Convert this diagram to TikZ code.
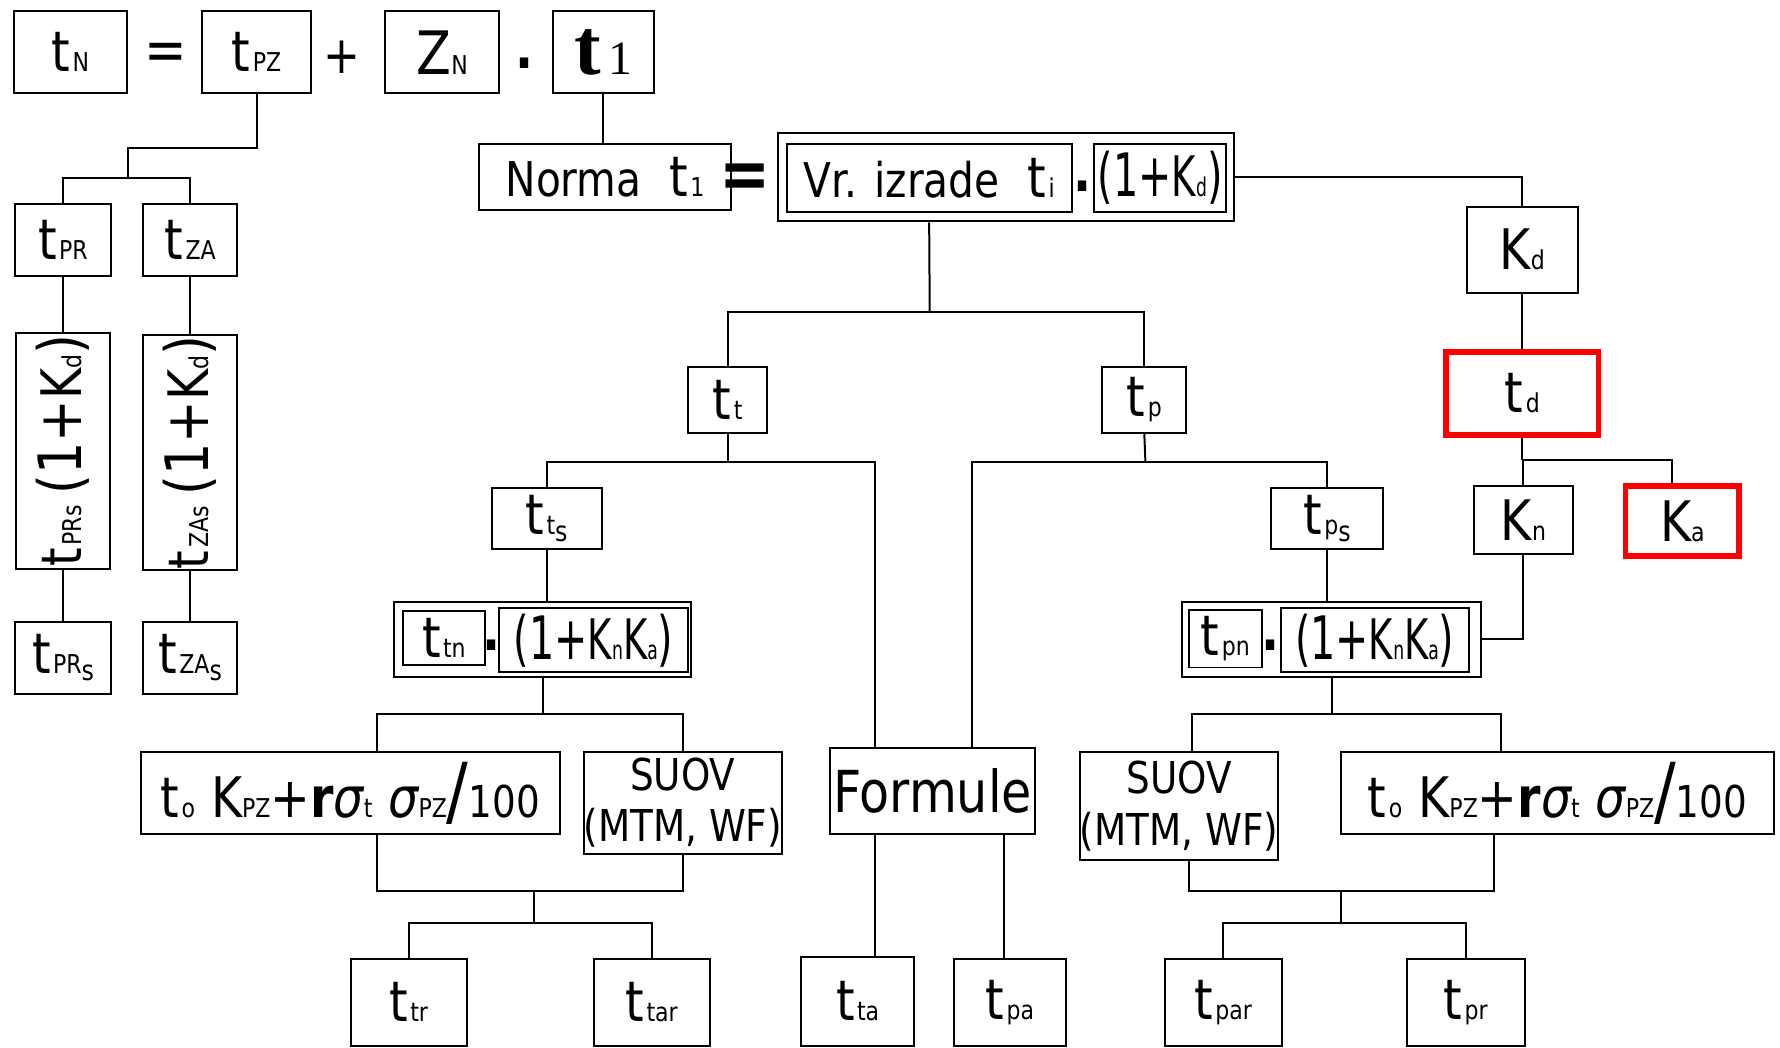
\documentclass[tikz,border=0pt]{standalone}
\usepackage{fontspec}
\setmainfont{DejaVu Sans}[FakeStretch=0.85]
\newfontfamily\serifb{Liberation Serif}

\newcommand{\bigsz}{\fontsize{14}{14}\selectfont}
\newcommand{\subsz}{\fontsize{6.5}{6.5}\selectfont}
\newcommand{\tsym}[1]{{\bigsz t}\kern0.6pt{\subsz #1}}
\newcommand{\ksym}[1]{{\bigsz K}{\subsz #1}}
\newcommand{\lowsub}[1]{\raisebox{-1.8pt}{\fontsize{7}{7}\selectfont #1}}
\newcommand{\paren}[1]{{\fontsize{15}{15}\selectfont #1}}
\newcommand{\narrow}[1]{\scalebox{0.78}[1]{#1}}

\begin{document}
\begin{tikzpicture}[x=0.1mm, y=-0.1mm, line width=0.5pt,
  cell/.style 2 args={draw, inner sep=0pt, minimum width=#1*0.1mm, minimum height=#2*0.1mm},
  hot/.style={draw=red, line width=1.4pt}]
  \useasboundingbox (0,0) rectangle (1568,923);

  % Top equation
  \node[cell={100}{72}] (tN) at (62,46) {\tsym{N}};
  \node (eqA) at (146,50) {\fontsize{15}{15}\selectfont =};
  \node[cell={96}{72}] (tPZ) at (226,46) {\tsym{PZ}};
  \node (plus) at (301,50) {\fontsize{13}{13}\selectfont +};
  \node[cell={101}{72}] (ZN) at (389.5,46) {{\fontsize{15}{15}\selectfont Z}{\subsz N}};
  \node (dotA) at (462,56) {\bigsz\bfseries .};
  \node[cell={89}{72}] (t1) at (531.5,46) {{\serifb\bfseries\fontsize{20}{20}\selectfont t}\,{\serifb\fontsize{12}{12}\selectfont 1}};

  % Left branch
  \node[cell={85}{63}] (tPR) at (55.5,211.5) {\tsym{PR}};
  \node[cell={83}{63}] (tZA) at (167.5,211.5) {\tsym{ZA}};
  \node[cell={208}{83}, rotate=90] (vPR) at (55.5,397) {\tsym{PRs}\ \paren{(1+}\ksym{d}\paren{)}};
  \node[cell={207}{83}, rotate=90] (vZA) at (167.5,398.5) {\tsym{ZAs}\ \paren{(1+}\ksym{d}\paren{)}};
  \node[cell={85}{63}] (tPRs) at (55.5,579.5) {\tsym{PR\lowsub{s}}};
  \node[cell={83}{63}] (tZAs) at (167.5,579.5) {\tsym{ZA\lowsub{s}}};

  \coordinate (jPZ) at (113,130);
  \coordinate (jPZb) at (113,157);
  \draw (tPZ.south) |- (jPZ) -- (jPZb);
  \draw (tPR.north) |- (jPZb) -| (tZA.north);
  \draw (tPR) -- (vPR);
  \draw (vPR) -- (tPRs);
  \draw (tZA) -- (vZA);
  \draw (vZA) -- (tZAs);

  % Norma
  \node[cell={222}{58}] (Norma) at (533,156) {{\fontsize{12}{12}\selectfont Norma}\hspace{7pt}\tsym{1}};
  \node (eqB) at (656,160) {\fontsize{18}{18}\selectfont\bfseries =};
  \node[cell={402}{78}] (ti) at (886,156) {};
  \node[cell={251}{60}] (vr) at (818.5,157) {{\fontsize{12}{12}\selectfont Vr. izrade}\hspace{7pt}\tsym{i}};
  \node (dotB) at (954,164) {\bigsz\bfseries .};
  \node[cell={116}{60}] (kd) at (1022,157) {\narrow{\paren{(1+}\ksym{d}\paren{)}}};
  \draw (t1.south) -- (t1.south |- Norma.north);

  % K_d branch
  \node[cell={98}{76}] (Kd) at (1341,220) {\ksym{d}};
  \node[cell={134}{73}, hot] (td) at (1341,346.5) {\tsym{d}};
  \node[cell={88}{60}] (Kn) at (1342,458) {\ksym{n}};
  \node[cell={100}{62}, hot] (Ka) at (1482,459) {\ksym{a}};
  \draw (ti.east) -| (Kd.north);
  \draw (Kd) -- (td);
  \coordinate (jtd) at (1341,405);
  \coordinate (jKa) at (1473,405);
  \draw (td.south) -- (jtd);
  \draw (Kn.north) |- (jtd) -- (jKa) -- (jKa |- Ka.north);

  % t_t and t_p
  \node[cell={70}{58}] (tt) at (641,352) {\tsym{t}};
  \node[cell={74}{58}] (tp) at (1008,352) {\tsym{p}};
  \coordinate (jti) at (819,275);
  \draw (vr.south |- ti.south) -- (jti);
  \draw (tt.north) |- (jti) -| (tp.north);

  \node[cell={97}{54}] (tts) at (481.5,457) {\tsym{t\lowsub{s}}};
  \node[cell={98}{54}] (tps) at (1169,457) {\tsym{p\lowsub{s}}};
  \node[cell={181}{76}] (Formule) at (821.5,697) {{\fontsize{14.5}{14.5}\selectfont Formule}};
  \coordinate (xfa) at (771,0);
  \coordinate (xfb) at (856,0);
  \coordinate (xfc) at (884,0);
  \coordinate (jtt) at (641,407);
  \coordinate (jtp) at (1009,407);
  \draw (tt.south) -- (jtt);
  \draw (tts.north) |- (jtt) -| (xfa |- Formule.north);
  \draw (tp.south) -- (jtp);
  \draw (xfb |- Formule.north) |- (jtp) -| (tps.north);

  % t_tn . (1+KnKa)
  \node[cell={262}{66}] (tn) at (478,563) {};
  \node[cell={72}{48}] (ttn) at (391,562) {\tsym{tn}};
  \node (dotC) at (433,568) {\bigsz\bfseries .};
  \node[cell={166}{56}] (kk1) at (523,564) {\narrow{\paren{(1+}\ksym{n}\ksym{a}\paren{)}}};
  \draw (tts.south) -- (tts.south |- tn.north);

  % t_pn . (1+KnKa)
  \node[cell={264}{66}] (tpn) at (1173,563) {};
  \node[cell={65}{51}] (tpnI) at (1079.5,562.5) {\tsym{pn}};
  \node (dotD) at (1119,568) {\bigsz\bfseries .};
  \node[cell={166}{56}] (kk2) at (1211,564) {\narrow{\paren{(1+}\ksym{n}\ksym{a}\paren{)}}};
  \draw (tps.south) -- (tps.south |- tpn.north);
  \draw (Kn.south) |- (tpn.east);

  % Left lower level
  \node[cell={369}{73}] (f1) at (308.5,698.5) {\tsym{o}\hspace{4pt}\ksym{PZ}{\bigsz+}{\bigsz\bfseries r}{\bigsz\itshape σ}{\subsz t}\hspace{4pt}{\bigsz\itshape σ}{\subsz PZ}{\fontsize{19}{19}\selectfont /}{\fontsize{11}{11}\selectfont 100}};
  \node[cell={171}{90}, align=center, font=\fontsize{11}{13}\selectfont] (s1) at (601.5,707) {SUOV\\(MTM, WF)};
  \coordinate (xf1) at (332,0);
  \coordinate (jtn) at (479,629);
  \draw (tn.south) -- (tn.south |- jtn);
  \draw (xf1 |- f1.north) |- (jtn) -| (s1.north);

  \node[cell={102}{76}] (ttr) at (360,883) {\tsym{tr}};
  \node[cell={102}{76}] (ttar) at (574,883) {\tsym{tar}};
  \coordinate (jf1) at (470,785);
  \coordinate (jf1b) at (470,813);
  \draw (xf1 |- f1.south) |- (jf1) -| (s1.south);
  \draw (jf1) -- (jf1b);
  \draw (ttr.north) |- (jf1b) -| (ttar.north);

  % Formule outputs
  \node[cell={99}{78}] (tta) at (755.5,882) {\tsym{ta}};
  \node[cell={99}{76}] (tpa) at (889.5,883) {\tsym{pa}};
  \draw (xfa |- Formule.south) -- (xfa |- tta.north);
  \draw (xfc |- Formule.south) -- (xfc |- tpa.north);

  % Right lower level
  \node[cell={171}{96}, align=center, font=\fontsize{11}{13}\selectfont] (s2) at (1038.5,710) {SUOV\\(MTM, WF)};
  \node[cell={382}{73}] (f2) at (1372,698.5) {\tsym{o}\hspace{4pt}\ksym{PZ}{\bigsz+}{\bigsz\bfseries r}{\bigsz\itshape σ}{\subsz t}\hspace{4pt}{\bigsz\itshape σ}{\subsz PZ}{\fontsize{19}{19}\selectfont /}{\fontsize{11}{11}\selectfont 100}};
  \coordinate (xs2t) at (1050,0);
  \coordinate (xs2b) at (1047,0);
  \coordinate (xf2t) at (1322,0);
  \coordinate (xf2b) at (1316,0);
  \coordinate (jtpn) at (1173,629);
  \draw (tpn.south) -- (jtpn);
  \draw (xs2t |- s2.north) |- (jtpn) -| (xf2t |- f2.north);

  \node[cell={103}{76}] (tpar) at (1077.5,883) {\tsym{par}};
  \node[cell={104}{76}] (tpr) at (1291,883) {\tsym{pr}};
  \coordinate (jf2) at (1181,785);
  \coordinate (jf2b) at (1181,813);
  \draw (xs2b |- s2.south) |- (jf2) -| (xf2b |- f2.south);
  \draw (jf2) -- (jf2b);
  \draw (tpar.north) |- (jf2b) -| (tpr.north);
\end{tikzpicture}
\end{document}
